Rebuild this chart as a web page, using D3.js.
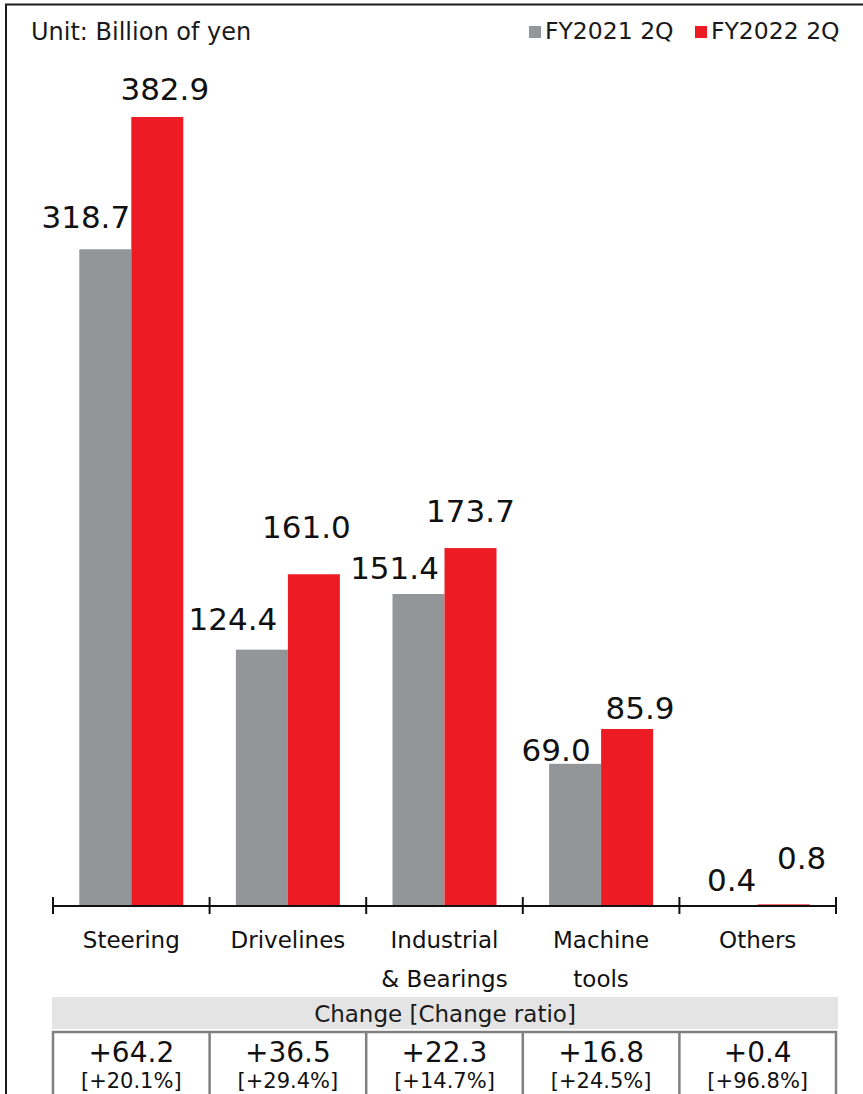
<!DOCTYPE html>
<html>
<head>
<meta charset="utf-8">
<script src="https://cdn.jsdelivr.net/npm/d3@7"></script>
<style>
  html, body { margin: 0; padding: 0; background: #fff; }
  svg { display: block; font-family: "DejaVu Sans", Verdana, sans-serif; }
</style>
</head>
<body>
<svg id="chart" width="863" height="1094"></svg>
<script>
// Net sales by business segment (billion yen)
const categories = ["Steering", "Drivelines", "Industrial & Bearings", "Machine tools", "Others"];
const categoryLines = [["Steering"], ["Drivelines"], ["Industrial", "& Bearings"], ["Machine", "tools"], ["Others"]];
const seriesNames = ["FY2021 2Q", "FY2022 2Q"];
const fy2021 = [318.7, 124.4, 151.4, 69.0, 0.4];
const fy2022 = [382.9, 161.0, 173.7, 85.9, 0.8];
const changeValues = ["+64.2", "+36.5", "+22.3", "+16.8", "+0.4"];
const changeRatios = ["[+20.1%]", "[+29.4%]", "[+14.7%]", "[+24.5%]", "[+96.8%]"];

// Hand placement of each value label relative to its bar: [dx from bar centre, baseline above bar top]
const labelNudge = [
  [[-19.5, 21], [7.5, 17]],
  [[-29, 20], [-7.5, 36]],
  [[-24, 15], [0, 26]],
  [[-19, 3], [13, 10]],
  [[0, 14], [18, 35]]
];

const colors = ["#939598", "#ed1c24"];
const series = [fy2021, fy2022];

const svg = d3.select("#chart");

// Outer frame
svg.append("rect")
  .attr("x", 6).attr("y", 4.5)
  .attr("width", 900).attr("height", 1200)
  .attr("fill", "none").attr("stroke", "#1a1a1a").attr("stroke-width", 2);

const axisY = 906;
const x = d3.scaleBand().domain(categories).range([53, 836]).padding(0);
const xInner = d3.scaleBand().domain(seriesNames).range([0, x.bandwidth()]).paddingInner(0).paddingOuter(0.506);
const y = d3.scaleLinear().domain([0, d3.max(fy2022)]).range([axisY, 117]);

// Unit note
svg.append("text")
  .attr("x", 31).attr("y", 39.5)
  .attr("font-size", 24).attr("fill", "#1a1a1a")
  .text("Unit: Billion of yen");

// Legend
const legend = svg.append("g");
const legendX = [529, 695];
seriesNames.forEach((name, i) => {
  legend.append("rect")
    .attr("x", legendX[i]).attr("y", 26)
    .attr("width", 12).attr("height", 12)
    .attr("fill", colors[i]);
  legend.append("text")
    .attr("x", legendX[i] + 16).attr("y", 38.5)
    .attr("font-size", 23.5).attr("fill", "#1a1a1a")
    .text(name);
});

// Bars
const groups = svg.append("g").selectAll("g")
  .data(categories)
  .join("g")
  .attr("transform", d => `translate(${x(d)},0)`);

groups.each(function (cat, ci) {
  const g = d3.select(this);
  seriesNames.forEach((s, si) => {
    const v = series[si][ci];
    g.append("rect")
      .attr("x", xInner(s))
      .attr("y", y(v))
      .attr("width", xInner.bandwidth())
      .attr("height", axisY - y(v))
      .attr("fill", colors[si]);
  });
});

// Value labels
groups.each(function (cat, ci) {
  const g = d3.select(this);
  seriesNames.forEach((s, si) => {
    const v = series[si][ci];
    const [dx, gap] = labelNudge[ci][si];
    g.append("text")
      .attr("x", xInner(s) + xInner.bandwidth() / 2 + dx)
      .attr("y", y(v) - gap)
      .attr("text-anchor", "middle")
      .attr("font-size", 31).attr("fill", "#111")
      .text(v.toFixed(1));
  });
});

// Category axis with ticks on band boundaries
const axis = svg.append("g");
axis.append("line")
  .attr("x1", x.range()[0]).attr("x2", x.range()[1])
  .attr("y1", axisY).attr("y2", axisY)
  .attr("stroke", "#111").attr("stroke-width", 2);
const bounds = categories.map(c => x(c)).concat([x.range()[1]]);
axis.selectAll("line.tick")
  .data(bounds)
  .join("line")
  .attr("class", "tick")
  .attr("x1", d => d).attr("x2", d => d)
  .attr("y1", axisY - 9).attr("y2", axisY + 8)
  .attr("stroke", "#111").attr("stroke-width", 2);

categories.forEach((c, ci) => {
  const t = axis.append("text")
    .attr("text-anchor", "middle")
    .attr("font-size", 23).attr("fill", "#111");
  categoryLines[ci].forEach((line, li) => {
    t.append("tspan")
      .attr("x", x(c) + x.bandwidth() / 2)
      .attr("y", 948 + li * 39)
      .text(line);
  });
});

// Change table
const table = svg.append("g");
table.append("rect")
  .attr("x", 52).attr("y", 997)
  .attr("width", 786).attr("height", 32)
  .attr("fill", "#e4e4e4");
table.append("text")
  .attr("x", (52 + 838) / 2).attr("y", 1022)
  .attr("text-anchor", "middle")
  .attr("font-size", 23).attr("fill", "#1a1a1a")
  .text("Change [Change ratio]");

table.append("rect")
  .attr("x", x.range()[0]).attr("y", 1032)
  .attr("width", x.range()[1] - x.range()[0]).attr("height", 120)
  .attr("fill", "none").attr("stroke", "#808080").attr("stroke-width", 2.5);
table.selectAll("line.div")
  .data(bounds.slice(1, -1))
  .join("line")
  .attr("class", "div")
  .attr("x1", d => d).attr("x2", d => d)
  .attr("y1", 1032).attr("y2", 1152)
  .attr("stroke", "#808080").attr("stroke-width", 2.5);

categories.forEach((c, ci) => {
  const cx = x(c) + x.bandwidth() / 2;
  table.append("text")
    .attr("x", cx).attr("y", 1062)
    .attr("text-anchor", "middle")
    .attr("font-size", 28).attr("fill", "#111")
    .text(changeValues[ci]);
  table.append("text")
    .attr("x", cx).attr("y", 1088)
    .attr("text-anchor", "middle")
    .attr("font-size", 21).attr("fill", "#111")
    .text(changeRatios[ci]);
});
</script>
</body>
</html>
